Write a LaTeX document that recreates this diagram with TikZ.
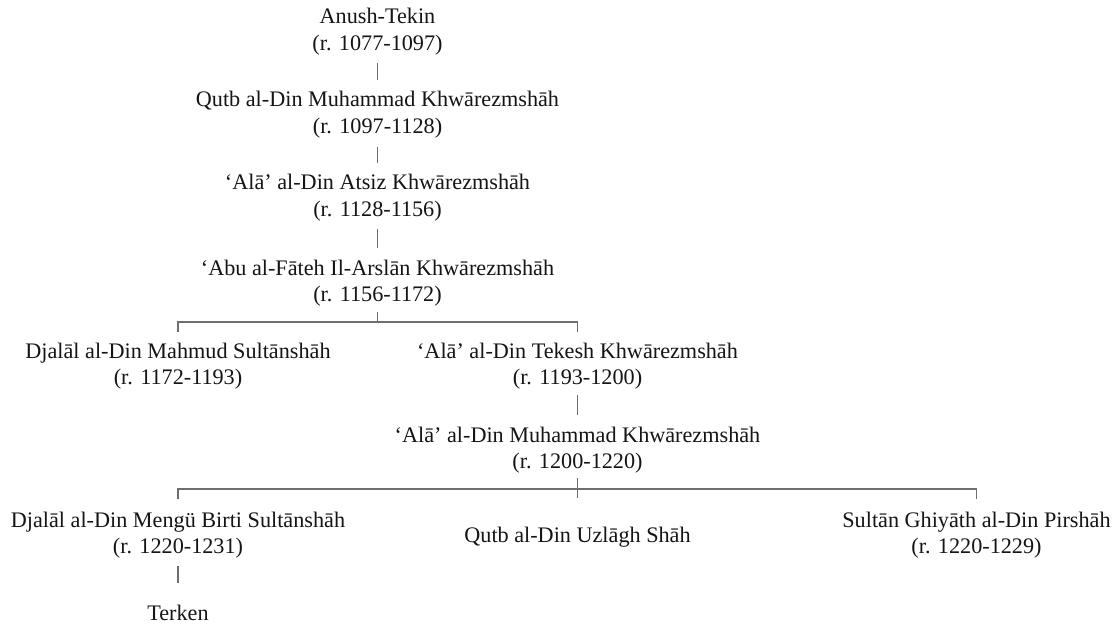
\documentclass[tikz,border=0pt]{standalone}
\usepackage{fontspec}
\setmainfont{Liberation Serif}
\usetikzlibrary{calc}
\definecolor{txt}{HTML}{151515}
\definecolor{linec}{HTML}{6E6E6E}
\newcommand\twol[2]{\begin{tabular}[t]{@{}c@{}}#1\\#2\end{tabular}}
\tikzset{
  person/.style={anchor=base, inner sep=0pt, text=txt, font=\fontsize{22.2}{26.5}\selectfont},
  conn/.style={draw=linec, line width=1.8pt}
}
\begin{document}
\begin{tikzpicture}[x=1pt, y=-1pt]
\useasboundingbox[fill=white] (0,0) rectangle (1118,628);
\node[person] (a) at (377.5,24) {\twol{Anush-Tekin}{(r. 1077-1097)}};
\node[person] (b) at (377.5,107) {\twol{Qutb al-Din Muhammad Khwārezmshāh}{(r. 1097-1128)}};
\node[person] (c) at (377.5,190) {\twol{‘Alā’ al-Din Atsiz Khwārezmshāh}{(r. 1128-1156)}};
\node[person] (d) at (377.5,275) {\twol{‘Abu al-Fāteh Il-Arslān Khwārezmshāh}{(r. 1156-1172)}};
\node[person] (e) at (178,358) {\twol{Djalāl al-Din Mahmud Sultānshāh}{(r. 1172-1193)}};
\node[person] (f) at (577.5,358) {\twol{‘Alā’ al-Din Tekesh Khwārezmshāh}{(r. 1193-1200)}};
\node[person] (g) at (577.5,442) {\twol{‘Alā’ al-Din Muhammad Khwārezmshāh}{(r. 1200-1220)}};
\node[person] (h) at (178,527) {\twol{Djalāl al-Din Mengü Birti Sultānshāh}{(r. 1220-1231)}};
\node[person] (i) at (577.5,542) {Qutb al-Din Uzlāgh Shāh};
\node[person] (j) at (976.5,527) {\twol{Sultān Ghiyāth al-Din Pirshāh}{(r. 1220-1229)}};
\node[person] (k) at (178,620) {Terken};
% straight descents
\draw[conn] ($(a.base)+(0,39)$) -- ($(b.base)+(0,-27)$);
\draw[conn] ($(b.base)+(0,40)$) -- ($(c.base)+(0,-27)$);
\draw[conn] ($(c.base)+(0,39)$) -- ($(d.base)+(0,-27)$);
\draw[conn] ($(f.base)+(0,37)$) -- ($(g.base)+(0,-27)$);
\draw[conn] ($(h.base)+(0,39)$) -- ($(k.base)+(0,-37)$);
% first fork
\coordinate (jd) at ($(d.base)+(0,47)$);
\draw[conn] ($(d.base)+(0,37)$) -- (jd);
\draw[conn] ($(e.base)+(0,-26)$) |- (jd) -| ($(f.base)+(0,-26)$);
% second fork
\coordinate (jg) at ($(g.base)+(0,47)$);
\draw[conn] ($(g.base)+(0,36)$) -- ($(i.base)+(0,-44)$);
\draw[conn] ($(h.base)+(0,-28)$) |- (jg) -| ($(j.base)+(0,-28)$);
\end{tikzpicture}
\end{document}
